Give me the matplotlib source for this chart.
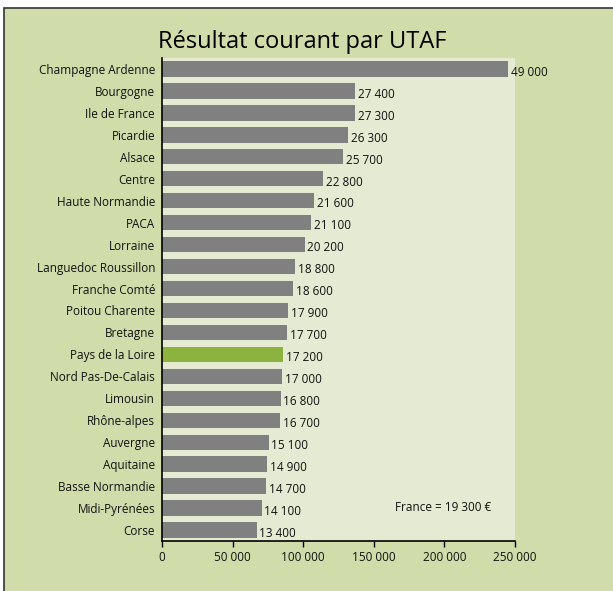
import matplotlib
matplotlib.use("Agg")
import matplotlib.pyplot as plt
from matplotlib.patches import Rectangle
import numpy as np

plt.rcParams['font.family'] = ['Open Sans', 'DejaVu Sans']

regions = ["Champagne Ardenne", "Bourgogne", "Ile de France", "Picardie", "Alsace",
           "Centre", "Haute Normandie", "PACA", "Lorraine", "Languedoc Roussillon",
           "Franche Comté", "Poitou Charente", "Bretagne", "Pays de la Loire",
           "Nord Pas-De-Calais", "Limousin", "Rhône-alpes", "Auvergne", "Aquitaine",
           "Basse Normandie", "Midi-Pyrénées", "Corse"]
values = [49000, 27400, 27300, 26300, 25700, 22800, 21600, 21100, 20200, 18800,
          18600, 17900, 17700, 17200, 17000, 16800, 16700, 15100, 14900, 14700,
          14100, 13400]
value_labels = ["49 000", "27 400", "27 300", "26 300", "25 700", "22 800", "21 600",
                "21 100", "20 200", "18 800", "18 600", "17 900", "17 700", "17 200",
                "17 000", "16 800", "16 700", "15 100", "14 900", "14 700", "14 100",
                "13 400"]
# axis as printed on the chart (bars are drawn on a 5x scale relative to these labels)
tick_values = [0, 10000, 20000, 30000, 40000, 50000]
tick_labels = ["0", "50 000", "100 000", "150 000", "200 000", "250 000"]
highlight = "Pays de la Loire"
note = "France = 19 300 €"
title = "Résultat courant par UTAF"

W, H = 613, 591
fig = plt.figure(figsize=(W / 100, H / 100), dpi=100)
fig.patch.set_facecolor("white")
outer = "#d0dcaa"
inner = "#e5ead2"
fig.patches.append(Rectangle((4 / W, -0.2), 1.2, 1.2 - 8 / H, transform=fig.transFigure,
                             facecolor=outer, edgecolor="#333333", linewidth=1.2,
                             zorder=-10))

ax = fig.add_axes([162 / W, 1 - 541 / H, (515 - 162) / W, (541 - 58) / H])
ax.set_facecolor(inner)
y = np.arange(len(regions))
colors = ["#8db33f" if r == highlight else "#808080" for r in regions]
ax.barh(y, values, height=0.7, color=colors, zorder=2)
for yi, v, lab in zip(y, values, value_labels):
    ax.text(v + 400, yi + 0.15, lab, va="center", ha="left", fontsize=8.5,
            color="#111111", zorder=3)
ax.set_yticks(y)
ax.set_yticklabels(regions, fontsize=8.5, color="#111111")
ax.set_ylim(len(regions) - 0.5, -0.5)
ax.set_xlim(0, 50000)
ax.set_xticks(tick_values)
ax.set_xticklabels(tick_labels, fontsize=8.5, color="#111111")
ax.tick_params(axis="y", length=0, pad=5)
ax.tick_params(axis="x", length=4, width=1, direction="out", pad=3)
for s in ["top", "right"]:
    ax.spines[s].set_visible(False)
for s in ["left", "bottom"]:
    ax.spines[s].set_color("black")
    ax.spines[s].set_linewidth(1.2)
ax.text(0.66, 0.07, note, transform=ax.transAxes, fontsize=8.5, color="#111111",
        va="center", ha="left")
fig.text(302 / W, 1 - 42 / H, title, fontsize=17, ha="center", va="center",
         color="black")

fig.savefig("out.png", dpi=100, facecolor=fig.get_facecolor())
